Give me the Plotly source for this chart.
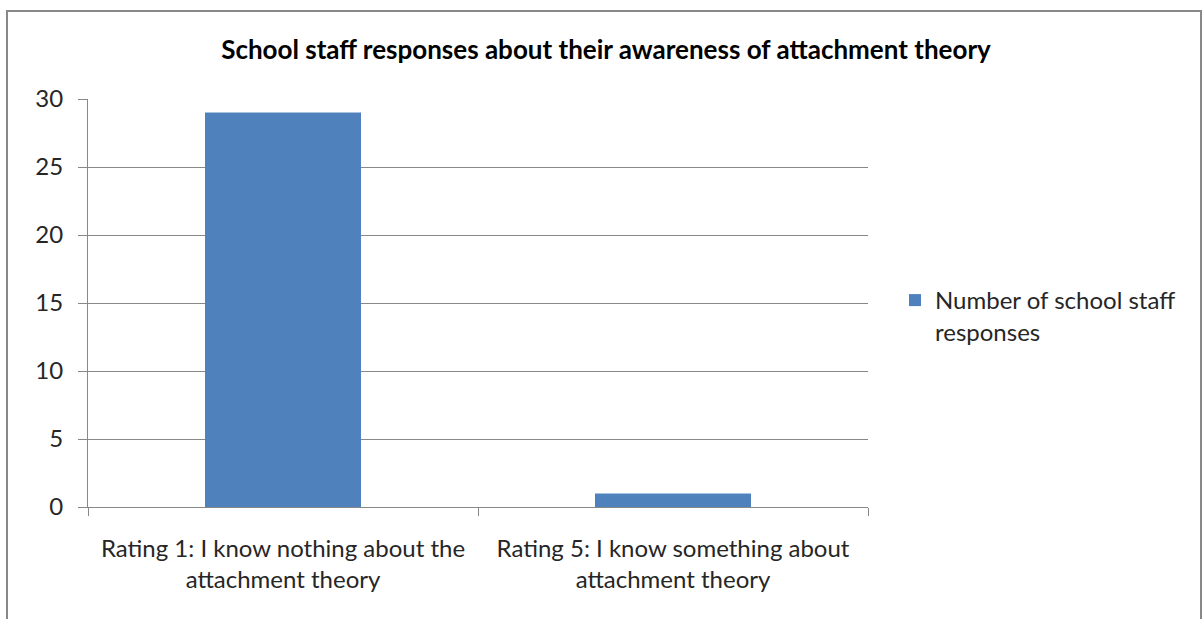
import plotly.graph_objects as go

categories = ["Rating 1: I know nothing about the<br>attachment theory",
              "Rating 5: I know something about<br>attachment theory"]
values = [29, 1]
series_name = "Number of school staff<br>responses"
title_text = "School staff responses about their awareness of attachment theory"

W, H = 1203, 619
L, R, T, B = 88, 868, 99, 507
pw, ph = R - L, B - T

fig = go.Figure()
fig.add_trace(go.Bar(x=categories, y=values, name=series_name, width=0.4,
                     marker=dict(color="#4F81BD", line=dict(width=0)),
                     showlegend=True))

font = "Lato, Carlito, Calibri, sans-serif"
fig.update_layout(
    width=W, height=H,
    margin=dict(l=L, r=W - R, t=T, b=H - B, autoexpand=False),
    paper_bgcolor="white", plot_bgcolor="white",
    font=dict(family=font, size=24, color="#262626"),
    title=dict(text="<b>" + title_text + "</b>", x=606 / W, xref="container", xanchor="center",
               y=1 - 50 / H, yref="container", yanchor="middle",
               font=dict(family=font, size=26, color="black")),
    showlegend=True,
    legend=dict(x=(895 - L) / pw, xanchor="left", y=(B - 316) / ph, yanchor="middle",
                font=dict(family=font, size=24, color="#262626"), valign="top",
                bgcolor="rgba(0,0,0,0)", itemwidth=30, tracegroupgap=0),
    bargap=0.6,
)
fig.update_xaxes(type="category", range=[-0.5, 1.5], showline=True, linecolor="#888888", linewidth=1,
                 ticks="outside", tickson="boundaries", ticklen=8, tickcolor="#888888",
                 showgrid=False, zeroline=False, tickfont=dict(size=24, color="#262626"),
                 ticklabelstandoff=20)
fig.update_yaxes(range=[0, 30], dtick=5, showline=True, linecolor="#888888", linewidth=1,
                 ticks="outside", ticklen=9, tickcolor="#888888",
                 showgrid=True, gridcolor="#888888", gridwidth=1, zeroline=False,
                 tickfont=dict(size=24, color="#262626"), ticklabelstandoff=10)

# outer chart border
fig.add_shape(type="rect", xref="paper", yref="paper",
              x0=(7 - L) / pw, x1=(1201 - L) / pw,
              y0=(B - 660) / ph, y1=(B - 11) / ph,
              line=dict(color="#888888", width=2), fillcolor="rgba(0,0,0,0)", layer="below")

fig.write_html("out.html", config={"displayModeBar": False},
               post_script="document.body.style.margin='0';")
